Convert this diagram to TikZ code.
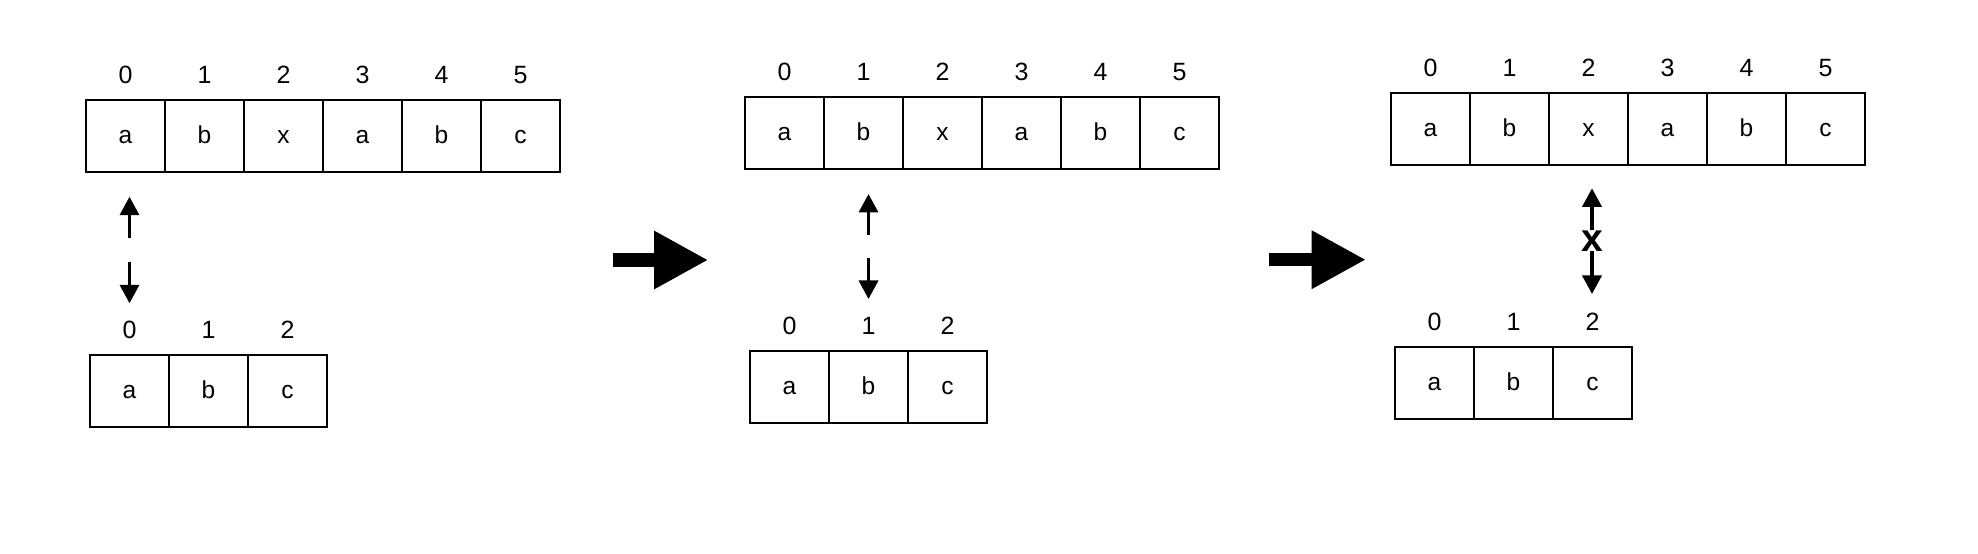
\documentclass[tikz,border=0pt]{standalone}
\usepackage{fontspec}
\setmainfont{Liberation Sans}
\usetikzlibrary{arrows.meta}

\tikzset{
  cell/.style={draw, line width=2pt, minimum width=79pt, minimum height=72pt,
    inner sep=0pt, text height=15pt, text depth=0pt, font=\fontsize{24.5}{28}\selectfont},
  idx/.style={inner sep=0pt, font=\fontsize{25}{28}\selectfont},
  link/.style={line width=3.5pt, -{Triangle[width=19pt,length=18.5pt]}},
  bigarrow/.style={line width=13.3pt, -{Triangle[width=54.7pt,length=54.3pt]}}
}

% a row of cells with their indices above
\newcommand{\drawrow}[4]{%
  \foreach \ch [count=\i from 0] in {#4} {
    \node[cell] (#1\i) at ({#2+79*\i},#3) {\ch};
    \node[idx] (#1l\i) at ({#2+79*\i},#3+61) {\i};
  }}

\begin{document}
\begin{tikzpicture}[x=1pt,y=1pt]
  \useasboundingbox (0,0) rectangle (1978,554);
  % first step
  \drawrow{ta}{125.5}{418}{a,b,x,a,b,c}
  \drawrow{pa}{129.5}{163}{a,b,c}
  \coordinate (ua1) at (129.5,315.5);
  \coordinate (ua2) at (129.5,357.3);
  \coordinate (da1) at (129.5,292);
  \coordinate (da2) at (129.5,250.7);
  \draw[link] (ua1) -- (ua2);
  \draw[link] (da1) -- (da2);
  \coordinate (s1) at (613.3,294);
  \coordinate (e1) at (708.3,294);
  \draw[bigarrow] (s1) -- (e1);
  % second step
  \drawrow{tb}{784.5}{421}{a,b,x,a,b,c}
  \drawrow{pb}{789.5}{167}{a,b,c}
  \coordinate (ub1) at (868.5,319);
  \coordinate (ub2) at (868.5,360);
  \coordinate (db1) at (868.5,295.7);
  \coordinate (db2) at (868.5,255);
  \draw[link] (ub1) -- (ub2);
  \draw[link] (db1) -- (db2);
  \coordinate (s2) at (1269,294.3);
  \coordinate (e2) at (1366,294.3);
  \draw[bigarrow] (s2) -- (e2);
  % third step: mismatch
  \drawrow{tc}{1430.5}{425}{a,b,x,a,b,c}
  \drawrow{pc}{1434.5}{171}{a,b,c}
  \node[inner sep=0pt, font=\fontsize{39}{44}\bfseries] (miss) at (1592,313) {x};
  \coordinate (uc) at (1592,365.7);
  \coordinate (dc) at (1592,260);
  \draw[link] (miss.north) -- (uc);
  \draw[link] (miss.south) -- (dc);
\end{tikzpicture}
\end{document}
